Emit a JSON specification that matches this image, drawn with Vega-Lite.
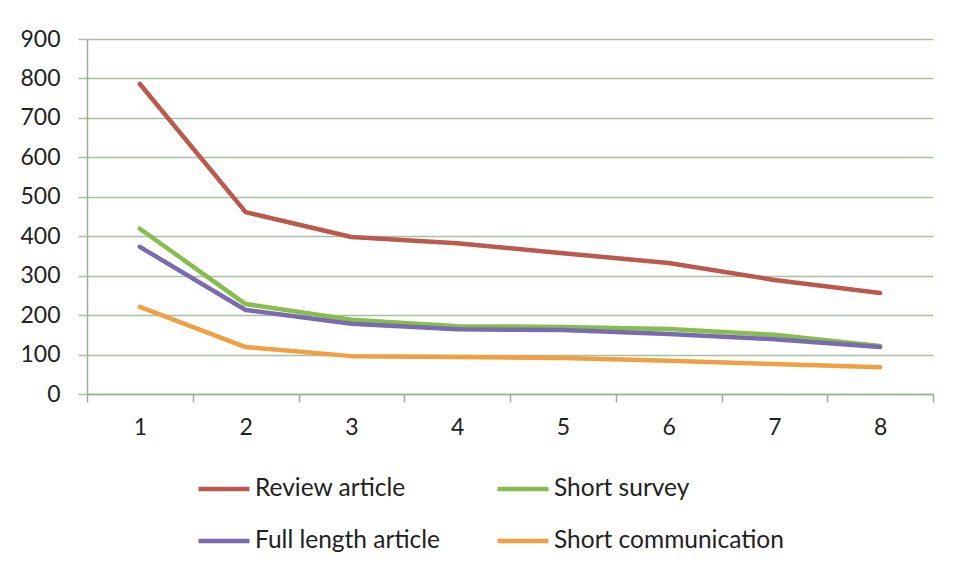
{
  "$schema": "https://vega.github.io/schema/vega-lite/v6.json",
  "width": 846,
  "height": 355,
  "autosize": "none",
  "padding": {"left": 87, "top": 39, "right": 38, "bottom": 190},
  "background": "white",
  "data": {
    "values": [
      {"x": 1, "type": "Review article", "v": 786},
      {"x": 2, "type": "Review article", "v": 461},
      {"x": 3, "type": "Review article", "v": 398},
      {"x": 4, "type": "Review article", "v": 382},
      {"x": 5, "type": "Review article", "v": 357},
      {"x": 6, "type": "Review article", "v": 332},
      {"x": 7, "type": "Review article", "v": 289},
      {"x": 8, "type": "Review article", "v": 256},
      {"x": 1, "type": "Short survey", "v": 419},
      {"x": 2, "type": "Short survey", "v": 228},
      {"x": 3, "type": "Short survey", "v": 188},
      {"x": 4, "type": "Short survey", "v": 172},
      {"x": 5, "type": "Short survey", "v": 170},
      {"x": 6, "type": "Short survey", "v": 165},
      {"x": 7, "type": "Short survey", "v": 150},
      {"x": 8, "type": "Short survey", "v": 122},
      {"x": 1, "type": "Full length article", "v": 373},
      {"x": 2, "type": "Full length article", "v": 213},
      {"x": 3, "type": "Full length article", "v": 178},
      {"x": 4, "type": "Full length article", "v": 164},
      {"x": 5, "type": "Full length article", "v": 162},
      {"x": 6, "type": "Full length article", "v": 152},
      {"x": 7, "type": "Full length article", "v": 139},
      {"x": 8, "type": "Full length article", "v": 119},
      {"x": 1, "type": "Short communication", "v": 221},
      {"x": 2, "type": "Short communication", "v": 119},
      {"x": 3, "type": "Short communication", "v": 96},
      {"x": 4, "type": "Short communication", "v": 94},
      {"x": 5, "type": "Short communication", "v": 91},
      {"x": 6, "type": "Short communication", "v": 84},
      {"x": 7, "type": "Short communication", "v": 76},
      {"x": 8, "type": "Short communication", "v": 68}
    ]
  },
  "mark": {"type": "line", "strokeWidth": 4.5, "interpolate": "linear", "strokeCap": "round", "strokeJoin": "round"},
  "encoding": {
    "x": {
      "field": "x",
      "type": "ordinal",
      "scale": {"paddingInner": 0, "paddingOuter": 0},
      "axis": {
        "title": null,
        "labelAngle": 0,
        "labelFont": "Lato",
        "labelFontSize": 23,
        "labelColor": "#222222",
        "labelPadding": 14,
        "domainColor": "#9aae96",
        "domainWidth": 1.5,
        "tickColor": "#9aae96",
        "tickWidth": 1.5,
        "tickSize": 8,
        "tickBand": "extent",
        "grid": false
      }
    },
    "y": {
      "field": "v",
      "type": "quantitative",
      "scale": {"domain": [0, 900], "nice": false},
      "axis": {
        "title": null,
        "values": [0, 100, 200, 300, 400, 500, 600, 700, 800, 900],
        "labelFont": "Lato",
        "labelFontSize": 23,
        "labelColor": "#222222",
        "labelPadding": 18,
        "domainColor": "#9aae96",
        "domainWidth": 1.5,
        "tickColor": "#a8c0a2",
        "tickWidth": 1.5,
        "tickSize": 9,
        "gridColor": "#a8c0a2",
        "gridWidth": 1.5
      }
    },
    "color": {
      "field": "type",
      "type": "nominal",
      "sort": ["Review article", "Full length article", "Short survey", "Short communication"],
      "scale": {
        "domain": ["Review article", "Full length article", "Short survey", "Short communication"],
        "range": ["#bb5a4c", "#7a6bb0", "#86bd4c", "#f0a043"]
      },
      "legend": {
        "title": null,
        "orient": "none",
        "legendX": 109,
        "legendY": 436,
        "columns": 2,
        "columnPadding": 55,
        "rowPadding": 24,
        "symbolType": "stroke",
        "symbolSize": 2600,
        "symbolStrokeWidth": 4.5,
        "labelFont": "Lato",
        "labelFontSize": 24.5,
        "labelColor": "#222222",
        "labelOffset": 3,
        "labelLimit": 400,
        "clipHeight": 28
      }
    }
  },
  "config": {"view": {"stroke": null}}
}
